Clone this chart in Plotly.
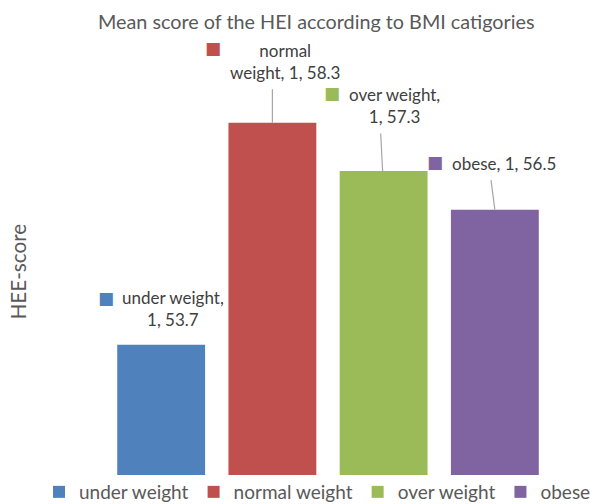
import plotly.graph_objects as go

# ---- data ----
categories = ["1"]
series_names = ["under weight", "normal weight", "over weight", "obese"]
series_values = [53.7, 58.3, 57.3, 56.5]
series_colors = ["#4F81BD", "#C0504D", "#9BBB59", "#8064A2"]
label_texts = ["under weight,<br>1, 53.7", "normal<br>weight, 1, 58.3",
               "over weight,<br>1, 57.3", "obese, 1, 56.5"]
chart_title = "Mean score of the HEI according to BMI catigories"
y_title = "HEE-score"

# ---- styling / layout offsets (pixels) ----
BARGAP = 0.103
GROUPGAP = 0.21
FONT = "Lato, 'Open Sans', sans-serif"
text_off = [(12, 36), (13, 61), (11, 65.5), (9.5, 46)]
sq_off = [(-55, 46.5), (-59.5, 74.5), (-52, 78.5), (-59.5, 47.5)]
leaders = [None, (0, 0, -35), (-1, -2, -39), (0, -4, -31)]
L, R, T, B = 80, 14, 89, 29
W, H = 590, 504
PW, PH = W - L - R, H - T - B

fig = go.Figure()
for name, val, col in zip(series_names, series_values, series_colors):
    fig.add_trace(go.Bar(name=name, x=categories, y=[val], marker_color=col,
                         marker_line_width=0, hoverinfo="skip"))

n = len(series_names)
slot = (1 - BARGAP) / n
annotations = []
for i, (val, col, txt) in enumerate(zip(series_values, series_colors, label_texts)):
    xc = (i - (n - 1) / 2) * slot
    annotations.append(dict(x=xc, y=val, xref="x", yref="y", text=txt, showarrow=False,
                            xshift=text_off[i][0], yshift=text_off[i][1],
                            font=dict(family=FONT, size=17, color="#404040"), align="center"))
    annotations.append(dict(x=xc, y=val, xref="x", yref="y",
                            text="■", showarrow=False,
                            xshift=sq_off[i][0], yshift=sq_off[i][1],
                            font=dict(family="DejaVu Sans", size=17, color=col)))
    if leaders[i] is not None:
        xs, ax, ay = leaders[i]
        annotations.append(dict(x=xc, y=val, xref="x", yref="y", text="", showarrow=True,
                                arrowhead=0, arrowwidth=1.2, arrowcolor="#A6A6A6",
                                ax=ax, ay=ay, axref="pixel", ayref="pixel", xshift=xs,
                                standoff=0, startstandoff=0))

# y-axis title as rotated text in the left margin
annotations.append(dict(x=(17 - L) / PW, y=(H - B - 271.5) / PH, xref="paper", yref="paper",
                        text=y_title, textangle=-90, showarrow=False,
                        xanchor="center", yanchor="middle",
                        font=dict(family=FONT, size=20.7, color="#595959")))

fig.update_layout(
    width=W, height=H,
    margin=dict(l=L, r=R, t=T, b=B, autoexpand=False),
    paper_bgcolor="white", plot_bgcolor="white",
    barmode="group", bargap=BARGAP, bargroupgap=GROUPGAP,
    title=dict(text=chart_title,
               x=98 / W, xref="container", xanchor="left",
               y=1 - 22 / H, yref="container", yanchor="middle",
               font=dict(family=FONT, size=19.8, color="#595959")),
    xaxis=dict(showticklabels=False, showgrid=False, zeroline=False, showline=False,
               ticks=""),
    yaxis=dict(range=[51, 59], showticklabels=False, showgrid=False, zeroline=False,
               showline=False, ticks=""),
    legend=dict(orientation="h", xref="paper", x=(39 - L) / PW, xanchor="left",
                yref="paper", y=-(492 - (H - B)) / PH, yanchor="middle",
                font=dict(family=FONT, size=19, color="#595959"),
                bgcolor="rgba(0,0,0,0)"),
    annotations=annotations,
    showlegend=True,
)

fig.write_html("out.html")
